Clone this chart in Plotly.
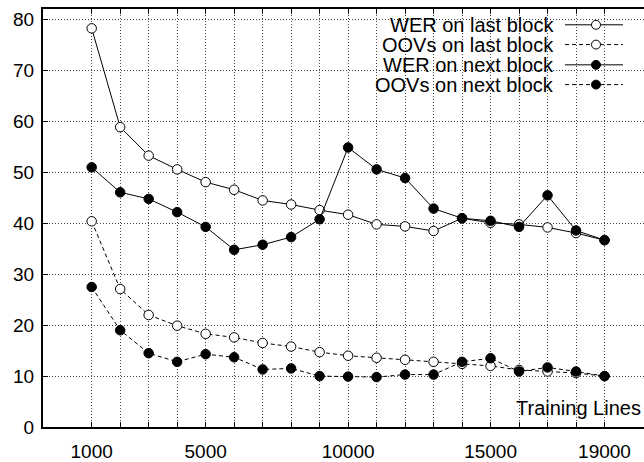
import plotly.graph_objects as go

training_lines = [1000, 2000, 3000, 4000, 5000, 6000, 7000, 8000, 9000, 10000,
                  11000, 12000, 13000, 14000, 15000, 16000, 17000, 18000, 19000]

wer_last = [78.3, 58.9, 53.3, 50.6, 48.1, 46.6, 44.5, 43.7, 42.6, 41.7,
            39.8, 39.4, 38.5, 41.0, 40.1, 39.8, 39.2, 38.1, 36.7]
oov_last = [40.4, 27.1, 22.0, 19.9, 18.3, 17.6, 16.5, 15.8, 14.7, 14.0,
            13.6, 13.2, 12.8, 12.4, 12.0, 11.2, 10.9, 10.6, 10.0]
wer_next = [51.0, 46.1, 44.8, 42.2, 39.3, 34.8, 35.8, 37.3, 40.8, 54.9,
            50.6, 48.9, 42.9, 41.0, 40.5, 39.3, 45.5, 38.6, 36.7]
oov_next = [27.5, 19.0, 14.5, 12.8, 14.3, 13.7, 11.3, 11.5, 10.0, 9.9,
            9.8, 10.3, 10.3, 12.8, 13.5, 10.9, 11.7, 10.9, 10.0]

series_names = ["WER on last block", "OOVs on last block",
                "WER on next block", "OOVs on next block"]

x_tick_vals = training_lines
x_tick_text = ["1000", "", "", "", "5000", "", "", "", "", "10000",
               "", "", "", "", "15000", "", "", "", "19000"]
y_tick_vals = [0, 10, 20, 30, 40, 50, 60, 70, 80]

FONT = "Liberation Sans, Arial, Helvetica, sans-serif"

styles = [
    dict(dash="solid", filled=False),
    dict(dash="4px,3px", filled=False),
    dict(dash="solid", filled=True),
    dict(dash="4px,3px", filled=True),
]
data = [wer_last, oov_last, wer_next, oov_next]

fig = go.Figure()
for name, ys, st in zip(series_names, data, styles):
    fig.add_trace(go.Scatter(
        x=training_lines, y=ys, name=name, mode="lines+markers",
        line=dict(color="black", width=1, dash=st["dash"]),
        marker=dict(symbol="circle", size=9.5,
                    color="black" if st["filled"] else "white",
                    line=dict(color="black", width=1)),
        showlegend=False,
    ))

W, H = 644, 462
ML, MT, MB, MR = 43, 9, 30, 0
PW, PH = W - ML - MR, H - MT - MB

def px(x):
    return (x - ML) / PW

def py(y):
    return (H - MB - y) / PH

shapes = [
    # legend background box
    dict(type="rect", xref="paper", yref="paper", layer="between",
         x0=px(343), x1=px(633), y0=py(96), y1=1.0,
         fillcolor="white", line=dict(width=0)),
]
annotations = []
row_y = [25, 45, 65.5, 85.5]
for name, st, ry in zip(series_names, styles, row_y):
    annotations.append(dict(
        text=name, xref="paper", yref="paper", x=px(556), y=py(ry),
        xanchor="right", yanchor="middle", showarrow=False,
        font=dict(family=FONT, size=20, color="black")))
    shapes.append(dict(type="line", xref="paper", yref="paper", layer="above",
                       x0=px(565), x1=px(623), y0=py(ry), y1=py(ry),
                       line=dict(color="black", width=1, dash=st["dash"])))
    shapes.append(dict(type="circle", xref="paper", yref="paper", layer="above",
                       x0=px(596 - 4.5), x1=px(596 + 4.5),
                       y0=py(ry + 4.5), y1=py(ry - 4.5),
                       fillcolor="black" if st["filled"] else "white",
                       line=dict(color="black", width=1)))

annotations.append(dict(
    text="Training Lines", xref="paper", yref="paper", x=px(643), y=py(413),
    xanchor="right", yanchor="middle", showarrow=False,
    font=dict(family=FONT, size=20, color="black")))

grid_style = dict(showgrid=True, gridcolor="#444444", griddash="1px,2px", gridwidth=1)

fig.update_layout(
    width=W, height=H,
    margin=dict(l=ML, r=MR, t=MT, b=MB, pad=0),
    paper_bgcolor="white", plot_bgcolor="white",
    font=dict(family=FONT, size=19, color="black"),
    shapes=shapes, annotations=annotations,
    xaxis=dict(range=[-709, 20386], tickvals=x_tick_vals, ticktext=x_tick_text,
               ticks="inside", ticklen=5, tickwidth=1, tickcolor="black",
               showline=True, linecolor="black", linewidth=2, mirror="ticks",
               zeroline=False, tickfont=dict(size=19), ticklabelstandoff=6,
               **grid_style),
    yaxis=dict(range=[0, 82.1], tickvals=y_tick_vals,
               ticks="inside", ticklen=5, tickwidth=1, tickcolor="black",
               showline=True, linecolor="black", linewidth=2, mirror=False,
               zeroline=False, tickfont=dict(size=19), ticklabelstandoff=3,
               **grid_style),
)

fig.write_html(
    "out.html",
    config={"displayModeBar": False},
    post_script="document.body.style.margin='0';document.body.style.padding='0';"
                "document.documentElement.style.overflow='hidden';",
)
